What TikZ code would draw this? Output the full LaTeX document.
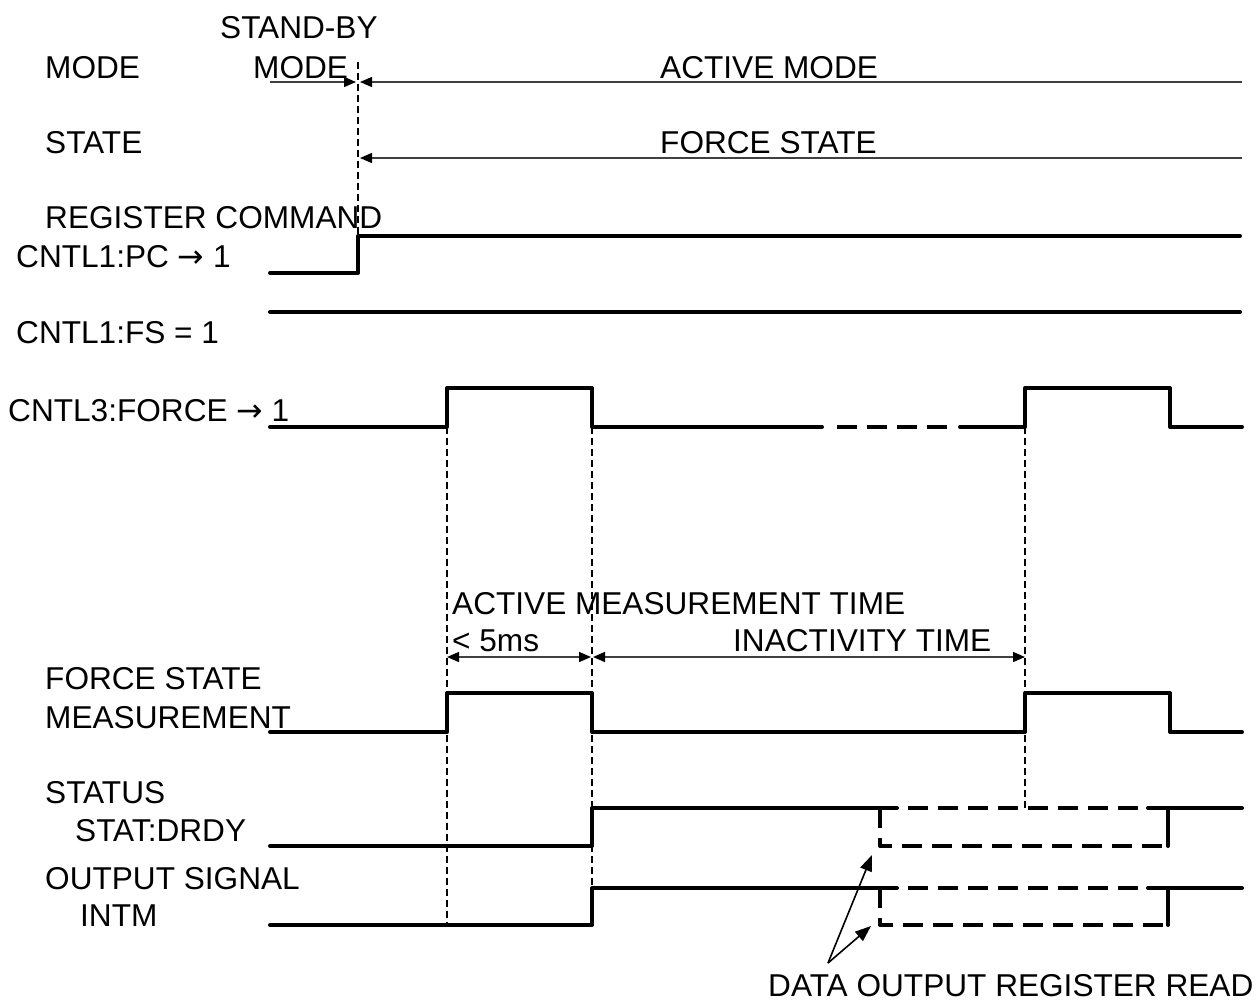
\documentclass[tikz,border=0pt]{standalone}
\usepackage{fontspec}
\setmainfont{Liberation Sans}
\newfontfamily\arrowfont{DejaVu Sans}
\usetikzlibrary{arrows.meta}
\newcommand{\rarr}{{\arrowfont →}}
\begin{document}
\begin{tikzpicture}[x=1pt,y=-1pt,
  lbl/.style={anchor=base west,inner sep=0pt,font=\fontsize{31.6}{31.6}\selectfont},
  sig/.style={line width=4pt,line join=round,line cap=round},
  sigdash/.style={line width=4pt,line join=round,dash pattern=on 20pt off 10pt},
  guide/.style={line width=1.1pt,dash pattern=on 7pt off 4pt},
  thin/.style={line width=1.4pt,black!75},
  tip/.style={-{Triangle[length=12pt,width=10pt,black]}},
  dtip/.style={{Triangle[length=12pt,width=10pt,black]}-{Triangle[length=12pt,width=10pt,black]}},
  ptr/.style={line width=1.6pt,-{Triangle[length=16pt,width=12pt]}}]
\useasboundingbox[fill=white] (0,0) rectangle (1260,1002);

% labels
\node[lbl] (tsb) at (220,38) {STAND-BY};
\node[lbl] (tsbm) at (253,78) {MODE};
\node[lbl] (tmode) at (45,78) {MODE};
\node[lbl] (tam) at (660,78) {ACTIVE MODE};
\node[lbl] (tstate) at (45,153) {STATE};
\node[lbl] (tfs) at (660,153) {FORCE STATE};
\node[lbl] (treg) at (45,228) {REGISTER COMMAND};
\node[lbl] (tpc) at (16,267) {CNTL1:PC \rarr\ 1};
\node[lbl] (tfs1) at (16,343) {CNTL1:FS = 1};
\node[lbl] (tforce) at (8,421) {CNTL3:FORCE \rarr\ 1};
\node[lbl] (tamt) at (452,614) {ACTIVE MEASUREMENT TIME};
\node[lbl] (t5ms) at (452,651) {< 5ms};
\node[lbl] (tinact) at (733,651) {INACTIVITY TIME};
\node[lbl] (tfsm1) at (45,689) {FORCE STATE};
\node[lbl] (tfsm2) at (45,728) {MEASUREMENT};
\node[lbl] (tst1) at (45,803) {STATUS};
\node[lbl] (tst2) at (75,841) {STAT:DRDY};
\node[lbl] (tout1) at (45,889) {OUTPUT SIGNAL};
\node[lbl] (tout2) at (80,926) {INTM};
\node[lbl] (tdata) at (768,996) {DATA OUTPUT REGISTER READ};

% guide lines
\draw[guide] (358,62) -- (358,236);
\draw[guide] (447,427) -- (447,925);
\draw[guide] (592,427) -- (592,888);
\draw[guide] (1025,427) -- (1025,808);

% mode / state arrows
\coordinate (sbL) at (270,82);
\coordinate (sbR) at (356,82);
\coordinate (amL) at (360,82);
\coordinate (amR) at (1242,82);
\coordinate (stL) at (360,158);
\coordinate (stR) at (1242,158);
\draw[thin,tip] (sbL) -- (sbR);
\draw[thin,tip] (amR) -- (amL);
\draw[thin,tip] (stR) -- (stL);

% CNTL1:PC
\draw[sig] (270,273) -- (358,273) -- (358,236) -- (1240,236);
% CNTL1:FS
\draw[sig] (270,312) -- (1240,312);
% CNTL3:FORCE
\draw[sig] (270,427) -- (447,427) -- (447,388) -- (592,388) -- (592,427) -- (822,427);
\draw[sigdash] (837,427) -- (947,427);
\draw[sig] (960,427) -- (1025,427) -- (1025,388) -- (1170,388) -- (1170,427) -- (1242,427);

% dimension arrows
\coordinate (d1) at (447,657);
\coordinate (d2) at (591,657);
\coordinate (d3) at (593,657);
\coordinate (d4) at (1025,657);
\draw[thin,dtip] (d1) -- (d2);
\draw[thin,dtip] (d3) -- (d4);

% FORCE STATE MEASUREMENT
\draw[sig] (270,732) -- (447,732) -- (447,693) -- (592,693) -- (592,732) -- (1025,732) -- (1025,693) -- (1170,693) -- (1170,732) -- (1242,732);

% STAT:DRDY
\draw[sig] (270,846) -- (592,846) -- (592,808) -- (897,808);
\draw[sigdash] (908,808) -- (1138,808);
\draw[sigdash] (880,808) -- (880,846) -- (1168,846);
\draw[sig] (1168,846) -- (1168,808) -- (1148,808);
\draw[sig] (1168,808) -- (1242,808);

% INTM
\draw[sig] (270,925) -- (592,925) -- (592,888) -- (897,888);
\draw[sigdash] (908,888) -- (1138,888);
\draw[sigdash] (880,888) -- (880,925) -- (1168,925);
\draw[sig] (1168,925) -- (1168,888) -- (1148,888);
\draw[sig] (1168,888) -- (1242,888);

% pointer arrows
\coordinate (pO) at (828,963);
\coordinate (pA) at (872,855);
\coordinate (pB) at (871,926);
\draw[ptr] (pO) -- (pA);
\draw[ptr] (pO) -- (pB);
\end{tikzpicture}
\end{document}
